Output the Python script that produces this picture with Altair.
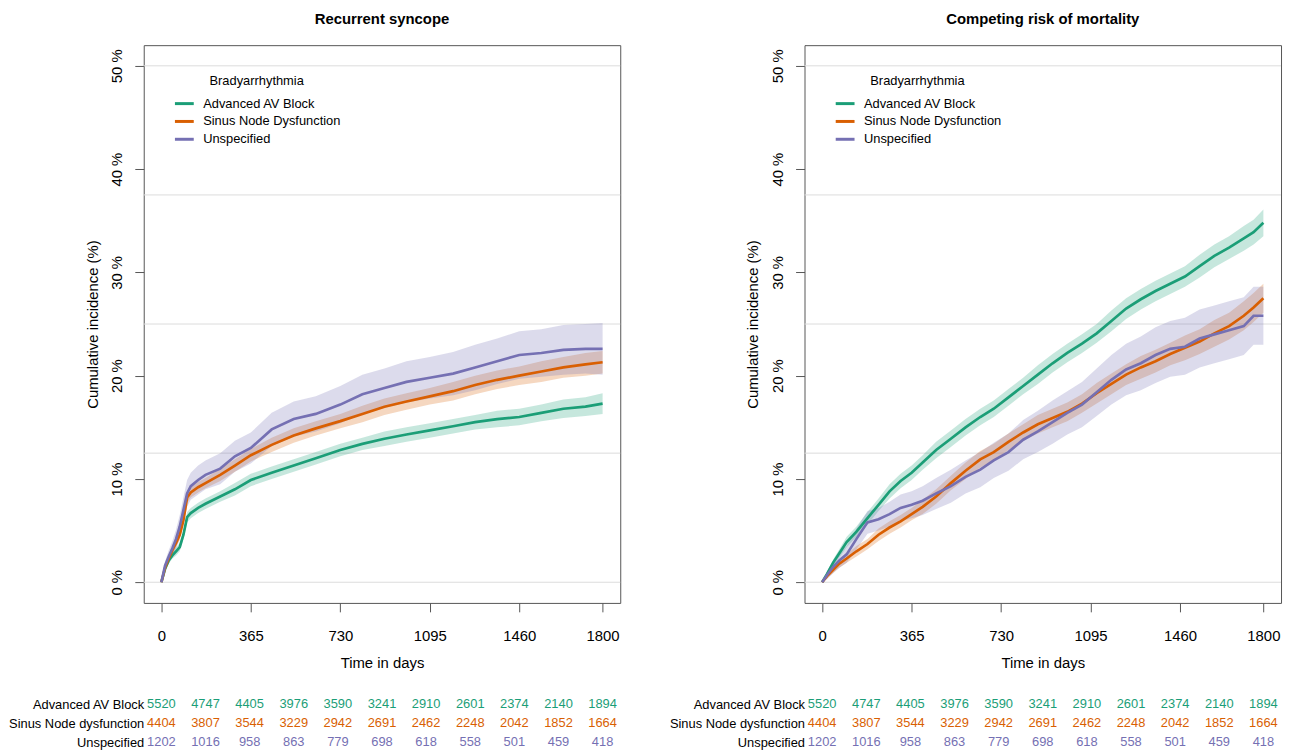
import altair as alt
import pandas as pd

FONT = "Liberation Sans"

GROUPS = ["Advanced AV Block", "Sinus Node Dysfunction", "Unspecified"]
TABLE_GROUPS = ["Advanced AV Block", "Sinus Node dysfunction", "Unspecified"]
COLORS = ["#1B9E77", "#D95F02", "#7570B3"]

X_TICKS = [0, 365, 730, 1095, 1460, 1800]
Y_TICKS = [0, 10, 20, 30, 40, 50]
GRID_LEVELS = [0, 12.5, 25, 37.5, 50]

# ---------------- Panel 1: Recurrent syncope ----------------
T1 = [0, 15, 30, 45, 60, 75, 90, 105, 120, 150, 180, 240, 300, 365, 450, 540, 630, 730,
      820, 910, 1000, 1095, 1190, 1280, 1370, 1460, 1550, 1640, 1730, 1800]

AVB1 = [0, 1.3, 2.1, 2.6, 3.0, 3.4, 4.6, 6.3, 6.7, 7.2, 7.6, 8.3, 9.0, 9.9, 10.6, 11.3, 12.0, 12.8,
        13.4, 13.9, 14.3, 14.7, 15.1, 15.5, 15.8, 16.0, 16.4, 16.8, 17.0, 17.3]
AVB1_LO = [0, 1.1, 1.8, 2.3, 2.6, 3.0, 4.2, 5.8, 6.2, 6.7, 7.1, 7.8, 8.4, 9.3, 10.0, 10.7, 11.4, 12.2,
           12.8, 13.2, 13.6, 14.0, 14.4, 14.8, 15.0, 15.2, 15.6, 15.9, 16.1, 16.3]
AVB1_HI = [0, 1.5, 2.4, 2.9, 3.4, 3.8, 5.0, 6.8, 7.2, 7.7, 8.1, 8.8, 9.6, 10.5, 11.2, 11.9, 12.6, 13.4,
           14.0, 14.6, 15.0, 15.4, 15.8, 16.2, 16.6, 16.8, 17.2, 17.7, 17.9, 18.3]

SND1 = [0, 1.4, 2.3, 3.1, 3.8, 4.6, 6.0, 8.2, 8.7, 9.2, 9.6, 10.4, 11.3, 12.3, 13.3, 14.2, 14.9, 15.6,
        16.3, 17.0, 17.5, 18.0, 18.5, 19.1, 19.6, 20.0, 20.4, 20.8, 21.1, 21.3]
SND1_LO = [0, 1.2, 2.0, 2.7, 3.4, 4.1, 5.5, 7.7, 8.2, 8.7, 9.1, 9.8, 10.7, 11.7, 12.6, 13.5, 14.2, 14.9,
           15.5, 16.2, 16.7, 17.2, 17.6, 18.2, 18.7, 19.1, 19.4, 19.8, 20.0, 20.2]
SND1_HI = [0, 1.6, 2.6, 3.5, 4.2, 5.1, 6.5, 8.7, 9.2, 9.7, 10.1, 11.0, 11.9, 12.9, 14.0, 14.9, 15.6, 16.3,
           17.1, 17.8, 18.3, 18.8, 19.4, 20.0, 20.5, 20.9, 21.4, 21.8, 22.2, 22.4]

UNS1 = [0, 1.6, 2.5, 3.3, 4.2, 5.4, 7.0, 8.6, 9.3, 9.9, 10.4, 11.0, 12.2, 13.0, 14.8, 15.8, 16.3, 17.2,
        18.2, 18.8, 19.4, 19.8, 20.2, 20.8, 21.4, 22.0, 22.2, 22.5, 22.6, 22.6]
UNS1_LO = [0, 1.2, 1.9, 2.6, 3.3, 4.3, 5.8, 7.3, 8.0, 8.5, 9.0, 9.5, 10.7, 11.5, 13.2, 14.1, 14.6, 15.4,
           16.3, 16.9, 17.4, 17.8, 18.1, 18.6, 19.2, 19.7, 19.9, 20.1, 20.2, 20.1]
UNS1_HI = [0, 2.0, 3.1, 4.0, 5.1, 6.5, 8.2, 9.9, 10.6, 11.3, 11.8, 12.5, 13.7, 14.5, 16.4, 17.5, 18.0, 19.0,
           20.1, 20.7, 21.4, 21.8, 22.3, 23.0, 23.6, 24.3, 24.5, 24.9, 25.0, 25.1]

# ---------------- Panel 2: Competing risk of mortality ----------------
T2 = [0, 20, 45, 70, 100, 140, 185, 230, 275, 320, 365, 410, 465, 525, 585, 645, 700, 760,
      820, 880, 940, 1000, 1060, 1120, 1180, 1240, 1300, 1360, 1420, 1480, 1540, 1600, 1660,
      1720, 1760, 1800]

AVB2 = [0, 0.8, 1.9, 2.8, 3.9, 4.9, 6.2, 7.5, 8.8, 9.8, 10.6, 11.6, 12.8, 13.9, 15.0, 16.0, 16.8, 17.9,
        19.0, 20.1, 21.2, 22.2, 23.1, 24.1, 25.3, 26.5, 27.4, 28.2, 28.9, 29.6, 30.6, 31.6, 32.4,
        33.3, 33.9, 34.8]
AVB2_LO = [0, 0.6, 1.6, 2.4, 3.4, 4.4, 5.6, 6.9, 8.1, 9.1, 9.9, 10.9, 12.0, 13.1, 14.2, 15.2, 16.0, 17.1,
           18.2, 19.2, 20.3, 21.3, 22.2, 23.2, 24.3, 25.5, 26.4, 27.2, 27.9, 28.6, 29.5, 30.5, 31.3,
           32.1, 32.7, 33.5]
AVB2_HI = [0, 1.0, 2.2, 3.2, 4.4, 5.4, 6.8, 8.1, 9.5, 10.5, 11.3, 12.3, 13.6, 14.7, 15.8, 16.8, 17.6, 18.7,
           19.8, 21.0, 22.1, 23.1, 24.0, 25.0, 26.3, 27.5, 28.4, 29.2, 29.9, 30.6, 31.7, 32.7, 33.5,
           34.5, 35.1, 36.1]

SND2 = [0, 0.6, 1.2, 1.8, 2.3, 3.0, 3.7, 4.6, 5.3, 5.9, 6.6, 7.3, 8.3, 9.6, 10.8, 11.9, 12.6, 13.6,
        14.5, 15.3, 15.9, 16.5, 17.3, 18.3, 19.2, 20.1, 20.8, 21.4, 22.1, 22.7, 23.3, 24.1, 24.8,
        25.8, 26.6, 27.5]
SND2_LO = [0, 0.4, 0.9, 1.4, 1.9, 2.5, 3.2, 4.0, 4.7, 5.3, 6.0, 6.6, 7.6, 8.9, 10.0, 11.1, 11.8, 12.8,
           13.7, 14.4, 15.0, 15.6, 16.4, 17.3, 18.2, 19.1, 19.7, 20.3, 21.0, 21.5, 22.1, 22.8, 23.5,
           24.4, 25.2, 26.1]
SND2_HI = [0, 0.8, 1.5, 2.2, 2.7, 3.5, 4.2, 5.2, 5.9, 6.5, 7.2, 8.0, 9.0, 10.3, 11.6, 12.7, 13.4, 14.4,
           15.3, 16.2, 16.8, 17.4, 18.2, 19.3, 20.2, 21.1, 21.9, 22.5, 23.2, 23.9, 24.5, 25.4, 26.1,
           27.2, 28.0, 28.9]

UNS2 = [0, 0.7, 1.5, 2.1, 2.7, 4.2, 5.8, 6.1, 6.6, 7.2, 7.5, 7.9, 8.6, 9.3, 10.2, 10.9, 11.8, 12.6,
        13.8, 14.6, 15.5, 16.4, 17.2, 18.4, 19.6, 20.6, 21.2, 22.0, 22.6, 22.8, 23.6, 24.0, 24.4,
        24.8, 25.8, 25.8]
UNS2_LO = [0, 0.3, 0.9, 1.4, 1.9, 3.2, 4.7, 5.0, 5.4, 5.9, 6.2, 6.5, 7.1, 7.7, 8.6, 9.2, 10.1, 10.8,
           11.9, 12.6, 13.4, 14.3, 15.0, 16.1, 17.2, 18.1, 18.6, 19.3, 19.9, 20.1, 20.8, 21.2, 21.6,
           22.0, 23.0, 23.0]
UNS2_HI = [0, 1.1, 2.1, 2.8, 3.5, 5.2, 6.9, 7.2, 7.8, 8.5, 8.8, 9.3, 10.1, 10.9, 11.8, 12.6, 13.5, 14.4,
           15.7, 16.6, 17.6, 18.5, 19.4, 20.7, 22.0, 23.1, 23.8, 24.7, 25.3, 25.6, 26.4, 26.8, 27.2,
           27.6, 28.6, 28.6]

# ---------------- Numbers at risk ----------------
RISK_TIMES = [0, 180, 360, 540, 720, 900, 1080, 1260, 1440, 1620, 1800]
RISK_AVB = [5520, 4747, 4405, 3976, 3590, 3241, 2910, 2601, 2374, 2140, 1894]
RISK_SND = [4404, 3807, 3544, 3229, 2942, 2691, 2462, 2248, 2042, 1852, 1664]
RISK_UNS = [1202, 1016, 958, 863, 779, 698, 618, 558, 501, 459, 418]


def curve_df(T, est_lists, lo_lists, hi_lists):
    rows = []
    for g, est, lo, hi in zip(GROUPS, est_lists, lo_lists, hi_lists):
        for t, e, l, h in zip(T, est, lo, hi):
            rows.append({"t": t, "grp": g, "est": e, "lo": l, "hi": h})
    return pd.DataFrame(rows)


def risk_df():
    rows = []
    for g, ns in zip(TABLE_GROUPS, [RISK_AVB, RISK_SND, RISK_UNS]):
        for t, n in zip(RISK_TIMES, ns):
            rows.append({"t": t, "grp": g, "n": n})
    return pd.DataFrame(rows)


xscale = alt.Scale(domain=[-72, 1872], nice=False, zero=False)
yscale = alt.Scale(domain=[-2, 52], nice=False, zero=False)

x_axis = alt.Axis(values=X_TICKS, format="d", title="Time in days", grid=False, domain=False,
                  tickSize=9, tickColor="#555555", tickWidth=1,
                  labelFontSize=15, labelPadding=17, labelColor="#000000", labelFont=FONT,
                  labelOverlap=False,
                  titleFontSize=15, titleFontWeight="normal", titlePadding=12,
                  titleColor="#000000", titleFont=FONT)

y_axis = alt.Axis(values=Y_TICKS, labelExpr="datum.value + ' %'", title="Cumulative incidence (%)",
                  grid=False, domain=False, tickSize=9, tickColor="#555555", tickWidth=1,
                  labelAngle=270, labelFontSize=15, labelPadding=10, labelColor="#000000",
                  labelFont=FONT, labelOverlap=False,
                  titleFontSize=15, titleFontWeight="normal", titlePadding=10,
                  titleColor="#000000", titleFont=FONT)


def panel(title, df):
    grid = alt.Chart(pd.DataFrame({"g": GRID_LEVELS})).mark_rule(
        color="#dcdcdc", strokeWidth=1
    ).encode(y=alt.Y("g:Q", scale=yscale, axis=y_axis))

    band = alt.Chart(df).mark_area(fillOpacity=0.25).encode(
        x=alt.X("t:Q", scale=xscale, axis=x_axis),
        y=alt.Y("lo:Q", scale=yscale, axis=y_axis),
        y2="hi:Q",
        fill=alt.Fill("grp:N", scale=alt.Scale(domain=GROUPS, range=COLORS), legend=None),
    )

    line = alt.Chart(df).mark_line(strokeWidth=2.7).encode(
        x=alt.X("t:Q", scale=xscale, axis=x_axis),
        y=alt.Y("est:Q", scale=yscale, axis=y_axis),
        color=alt.Color(
            "grp:N",
            scale=alt.Scale(domain=GROUPS, range=COLORS),
            legend=alt.Legend(
                title="Bradyarrhythmia", orient="none", legendX=30, legendY=30,
                padding=0, titleFontSize=13, titleFontWeight="normal", titleAnchor="middle",
                titleColor="#000000", titleFont=FONT, titlePadding=5,
                labelFontSize=13, labelColor="#000000", labelFont=FONT, labelOffset=8,
                symbolType="stroke", symbolSize=361, symbolStrokeWidth=3, rowPadding=-3,
            ),
        ),
    )

    plot = alt.layer(grid, band, line).properties(
        width=481, height=563,
        title=alt.TitleParams(title, fontSize=15, fontWeight="bold", font=FONT, anchor="middle",
                              frame="group", offset=18, color="#000000"),
    )

    table = alt.Chart(risk_df()).mark_text(fontSize=13, font=FONT).encode(
        x=alt.X("t:Q", scale=xscale, axis=None),
        y=alt.Y("grp:N", sort=TABLE_GROUPS, scale=alt.Scale(domain=TABLE_GROUPS),
                axis=alt.Axis(title=None, domain=False, ticks=False, tickSize=0, labelPadding=0,
                              labelFontSize=13, labelColor="#000000", labelFont=FONT,
                              labelLimit=400)),
        text=alt.Text("n:Q", format="d"),
        color=alt.Color("grp:N", scale=alt.Scale(domain=TABLE_GROUPS, range=COLORS), legend=None),
    ).properties(width=481, height=57, view=alt.ViewBackground(strokeWidth=0))

    return alt.vconcat(plot, table, spacing=24).resolve_scale(color="independent")


left = panel("Recurrent syncope", curve_df(T1, [AVB1, SND1, UNS1], [AVB1_LO, SND1_LO, UNS1_LO],
                                          [AVB1_HI, SND1_HI, UNS1_HI]))
right = panel("Competing risk of mortality",
              curve_df(T2, [AVB2, SND2, UNS2], [AVB2_LO, SND2_LO, UNS2_LO], [AVB2_HI, SND2_HI, UNS2_HI]))

chart = alt.hconcat(left, right, spacing=48).resolve_scale(
    color="independent", fill="independent"
).resolve_legend(color="independent").properties(
    padding={"left": 0, "top": 0, "right": 2, "bottom": 0}
).configure(font=FONT).configure_view(stroke="#555555", strokeWidth=1)

chart.save("out.html", embed_options={"renderer": "svg", "actions": False})
